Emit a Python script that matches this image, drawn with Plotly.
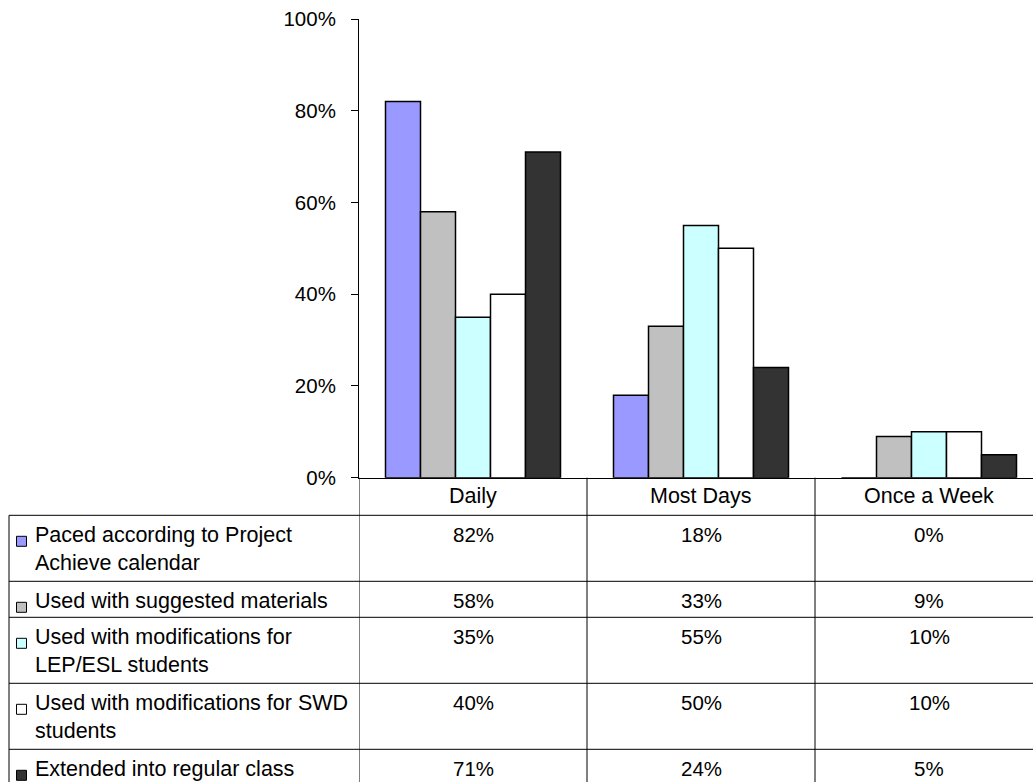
import textwrap
import plotly.graph_objects as go

# ---------------- data ----------------
categories = ["Daily", "Most Days", "Once a Week"]
series_names = [
    "Paced according to Project Achieve calendar",
    "Used with suggested materials",
    "Used with modifications for LEP/ESL students",
    "Used with modifications for SWD students",
    "Extended into regular class",
]
paced = [82, 18, 0]
suggested = [58, 33, 9]
lep_esl = [35, 55, 10]
swd = [40, 50, 10]
extended = [71, 24, 5]
series_values = [paced, suggested, lep_esl, swd, extended]
y_ticks = [0, 20, 40, 60, 80, 100]
y_tick_labels = ["0%", "20%", "40%", "60%", "80%", "100%"]

# ---------------- styles ----------------
colors = ["#9999FF", "#C0C0C0", "#CCFFFF", "#FFFFFF", "#333333"]
W, H = 1033, 782
FONT = "Liberation Sans, Arial, sans-serif"
FS_LABEL = 21.5
FS_NUM = 20.5


def px(x):
    return x / W


def py(y):
    return 1 - y / H


plot_left, plot_top, plot_bottom = 359, 19, 477.7
cat_w = 228.0
x_end = -0.5 + (W - plot_left) / cat_w

fig = go.Figure()
for name, vals, col in zip(series_names, series_values, colors):
    fig.add_trace(go.Bar(
        x=categories, y=vals, name=name,
        marker=dict(color=col, line=dict(color="black", width=1.5)),
        showlegend=False, hoverinfo="skip",
    ))

shapes = []
annotations = []
line_style = dict(color="black", width=1)

# table geometry
header_top, header_bot = plot_bottom, 515.3
table_left = 9
row_tops = []
y = header_bot
wrapped = [textwrap.wrap(n, 31) for n in series_names]
for lines in wrapped:
    row_tops.append(y)
    y += 36 if len(lines) == 1 else 66

# horizontal lines
for rt in row_tops:
    shapes.append(dict(type="line", xref="paper", yref="paper",
                       x0=px(table_left), x1=1, y0=py(rt), y1=py(rt), line=line_style))
# left border
shapes.append(dict(type="line", xref="paper", yref="paper",
                   x0=px(table_left), x1=px(table_left), y0=py(header_bot), y1=0, line=line_style))
# vertical column lines (y-axis continuation + category boundaries)
for xb in [-0.5, 0.5, 1.5]:
    shapes.append(dict(type="line", xref="x", yref="paper",
                       x0=xb, x1=xb, y0=py(header_top), y1=0, line=line_style))

# category labels
for c in categories:
    annotations.append(dict(x=c, xref="x", y=py(495.5), yref="paper",
                            text=c, showarrow=False, xanchor="center", yanchor="middle",
                            font=dict(family=FONT, size=FS_LABEL, color="black")))

# rows: legend key, label, values
for i, (lines, vals, col) in enumerate(zip(wrapped, series_values, colors)):
    rt = row_tops[i]
    first_c = rt + 19.5
    for k, ln in enumerate(lines):
        annotations.append(dict(x=px(33), xref="paper", y=py(first_c + 28.5 * k), yref="paper",
                                text=ln, showarrow=False, xanchor="left", yanchor="middle",
                                font=dict(family=FONT, size=FS_LABEL, color="black")))
    shapes.append(dict(type="rect", xref="paper", yref="paper",
                       x0=px(16.5), x1=px(26.5), y0=py(first_c + 1.5), y1=py(first_c + 11.5),
                       fillcolor=col, line=dict(color="black", width=1)))
    for c, v in zip(categories, vals):
        annotations.append(dict(x=c, xref="x", y=py(first_c), yref="paper",
                                text=f"{round(v)}%", showarrow=False,
                                xanchor="center", yanchor="middle",
                                font=dict(family=FONT, size=FS_NUM, color="black")))

fig.update_layout(
    width=W, height=H, autosize=False,
    margin=dict(l=0, r=0, t=0, b=0, pad=0, autoexpand=False),
    paper_bgcolor="white", plot_bgcolor="white",
    barmode="group", bargap=1 - 175 / 228, bargroupgap=0,
    font=dict(family=FONT, size=FS_NUM, color="black"),
    xaxis=dict(domain=[px(plot_left), 1], range=[-0.5, x_end], type="category",
               showticklabels=False, ticks="", showgrid=False, zeroline=False,
               showline=True, linecolor="black", linewidth=1, automargin=False),
    yaxis=dict(domain=[py(plot_bottom), py(plot_top)], range=[0, 100],
               tickvals=y_ticks, ticktext=y_tick_labels,
               ticks="outside", ticklen=7, tickcolor="black", tickwidth=1,
               ticklabelstandoff=11, automargin=False,
               tickfont=dict(family=FONT, size=FS_NUM, color="black"),
               showgrid=False, zeroline=False,
               showline=True, linecolor="black", linewidth=1),
    shapes=shapes, annotations=annotations,
)

fig.write_html("out.html")
